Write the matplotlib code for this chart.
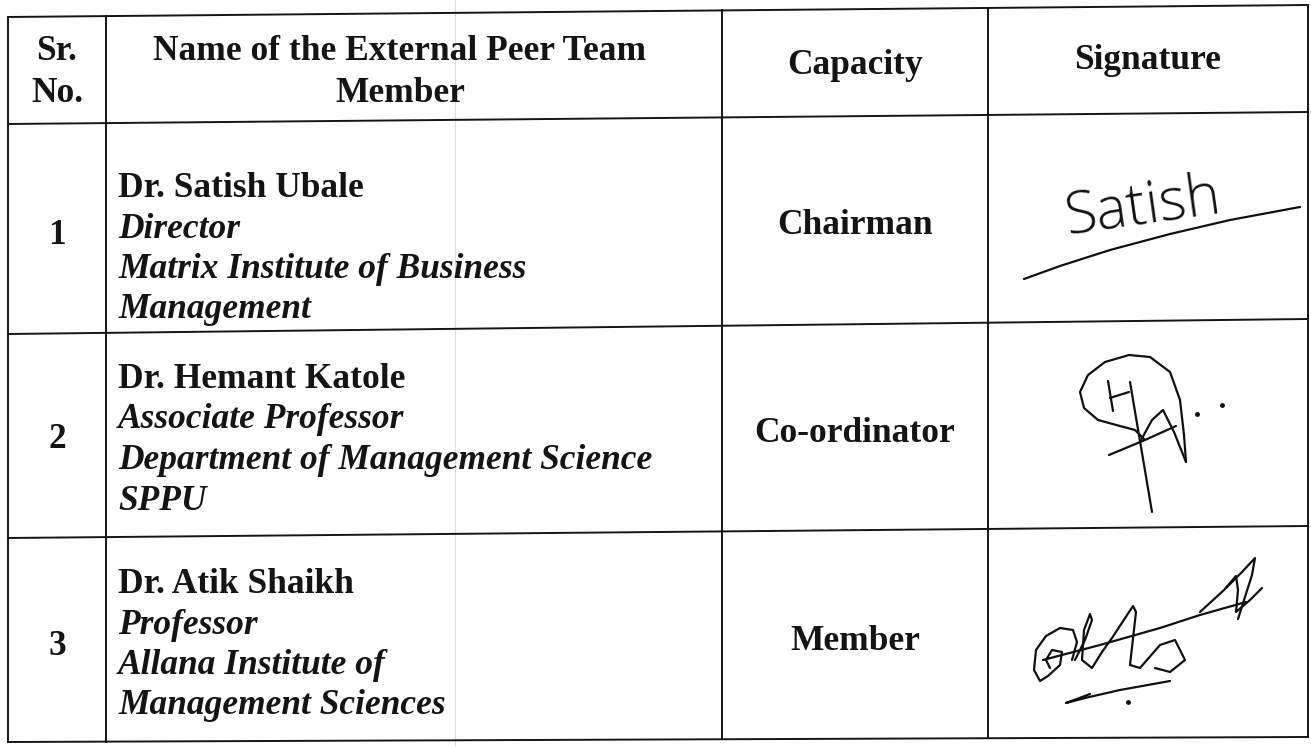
import numpy as np
import matplotlib
matplotlib.use("Agg")
import matplotlib.pyplot as plt

# Table content
header_sr = ["Sr.", "No."]
header_name = ["Name of the External Peer Team", "Member"]
header_capacity = "Capacity"
header_signature = "Signature"

sr_numbers = ["1", "2", "3"]
member_names = ["Dr. Satish Ubale", "Dr. Hemant Katole", "Dr. Atik Shaikh"]
member_details = [
    ["Director", "Matrix Institute of Business", "Management"],
    ["Associate Professor", "Department of Management Science", "SPPU"],
    ["Professor", "Allana Institute of", "Management Sciences"],
]
capacities = ["Chairman", "Co-ordinator", "Member"]
signature_text = "Satish"

# Page geometry (pixels of the scanned page, y downwards)
W, H = 1311, 747
col_x = [8, 106, 722, 988, 1308]
# horizontal rules: (y at left edge, y at right edge) -- scan is slightly skewed
row_y = [(17, 5), (124, 112), (334, 319), (538, 526), (742, 737)]
name_first_baseline = [197, 388, 593]
line_gap = 40.5
sr_baseline = [244, 448, 655]
cap_baseline = [234, 442, 650]

FS = 25.5
SERIF = ["Liberation Serif", "DejaVu Serif"]
INK = "#141414"

fig = plt.figure(figsize=(W / 100, H / 100), dpi=100)
fig.patch.set_facecolor("white")
ax = fig.add_axes([0, 0, 1, 1])
ax.set_xlim(0, W)
ax.set_ylim(H, 0)
ax.axis("off")


def rule_y(i, x):
    yl, yr = row_y[i]
    return yl + (yr - yl) * (x - col_x[0]) / (col_x[-1] - col_x[0])


# faint fold line of the scan
ax.plot([455, 455], [0, H], color="#dcdce6", lw=0.8, zorder=1)

# horizontal rules
for i in range(len(row_y)):
    ax.plot([col_x[0], col_x[-1]], [rule_y(i, col_x[0]), rule_y(i, col_x[-1])],
            color=INK, lw=1.4, solid_capstyle="projecting", zorder=2)
# vertical rules
for x in col_x:
    ax.plot([x, x], [rule_y(0, x), rule_y(len(row_y) - 1, x)],
            color=INK, lw=1.4, zorder=2)

# header
sr_cx = (col_x[0] + col_x[1]) / 2
name_cx = 400
cap_cx = (col_x[2] + col_x[3]) / 2
sig_cx = (col_x[3] + col_x[4]) / 2
for k, (a, b) in enumerate(zip(header_sr, header_name)):
    yb = 60 + k * 42
    ax.text(sr_cx, yb, a, ha="center", va="baseline", fontsize=FS,
            fontweight="bold", family=SERIF, color=INK)
    ax.text(name_cx, yb, b, ha="center", va="baseline", fontsize=FS,
            fontweight="bold", family=SERIF, color=INK)
ax.text(cap_cx, 74, header_capacity, ha="center", va="baseline", fontsize=FS,
        fontweight="bold", family=SERIF, color=INK)
ax.text(sig_cx, 69, header_signature, ha="center", va="baseline", fontsize=FS,
        fontweight="bold", family=SERIF, color=INK)

# body rows
name_x = 118
for r in range(len(sr_numbers)):
    ax.text(sr_cx, sr_baseline[r], sr_numbers[r], ha="center", va="baseline",
            fontsize=FS, fontweight="bold", family=SERIF, color=INK)
    y0 = name_first_baseline[r]
    ax.text(name_x, y0, member_names[r], ha="left", va="baseline", fontsize=FS,
            fontweight="bold", family=SERIF, color=INK)
    for j, line in enumerate(member_details[r]):
        ax.text(name_x, y0 + (j + 1) * line_gap, line, ha="left", va="baseline",
                fontsize=FS, fontweight="bold", fontstyle="italic",
                family=SERIF, color=INK)
    ax.text(cap_cx, cap_baseline[r], capacities[r], ha="center", va="baseline",
            fontsize=FS, fontweight="bold", family=SERIF, color=INK)

# signatures (hand-drawn strokes)
pen = dict(color="#101010", lw=1.6, solid_capstyle="round", solid_joinstyle="round", zorder=3)

ax.text(1068, 234, signature_text, ha="left", va="baseline", fontsize=42,
        fontweight="light", family=["Open Sans", "DejaVu Sans"], color="#101010",
        rotation=8, rotation_mode="anchor")
sig1_underline = [(1024, 279), (1060, 266), (1110, 250), (1170, 234), (1230, 220), (1300, 207)]

sig2_strokes = [
    [(1186, 462), (1184, 435), (1180, 400), (1170, 372), (1150, 357), (1129, 355),
     (1105, 362), (1088, 375), (1080, 392), (1084, 408), (1098, 420), (1120, 426),
     (1135, 430), (1145, 440)],
    [(1130, 382), (1152, 512)],
    [(1108, 381), (1113, 411)],
    [(1110, 398), (1129, 392)],
    [(1140, 442), (1152, 420), (1163, 410), (1174, 432), (1186, 462)],
    [(1109, 455), (1145, 440), (1176, 426)],
]
sig2_dots = [(1197, 414), (1222, 405)]

sig3_strokes = [
    [(1050, 668), (1046, 660), (1052, 650), (1062, 652), (1060, 665), (1048, 676),
     (1040, 681), (1034, 670), (1036, 650), (1046, 636), (1060, 628), (1073, 630),
     (1077, 642), (1072, 660)],
    [(1075, 660), (1085, 640), (1092, 620), (1090, 614), (1084, 630), (1082, 660),
     (1092, 668), (1102, 652)],
    [(1102, 652), (1112, 638), (1133, 606), (1136, 612), (1130, 665), (1140, 668), (1160, 645)],
    [(1043, 660), (1100, 645), (1160, 628), (1200, 615), (1246, 602)],
    [(1160, 645), (1175, 640), (1185, 660), (1170, 672), (1155, 668)],
    [(1200, 612), (1224, 590), (1236, 576), (1238, 590), (1236, 612), (1250, 600), (1262, 588)],
    [(1226, 588), (1242, 572), (1255, 558), (1252, 575), (1238, 619)],
    [(1170, 681), (1120, 690), (1085, 698), (1066, 703), (1090, 694)],
]
sig3_dots = [(1128, 702)]

ax.plot(*zip(*sig1_underline), **pen)
for s in sig2_strokes + sig3_strokes:
    ax.plot(*zip(*s), **pen)
for d in sig2_dots + sig3_dots:
    ax.plot(*d, marker="o", ms=2.5, color="#101010", zorder=3)

fig.savefig("out.png", dpi=100, facecolor="white")
